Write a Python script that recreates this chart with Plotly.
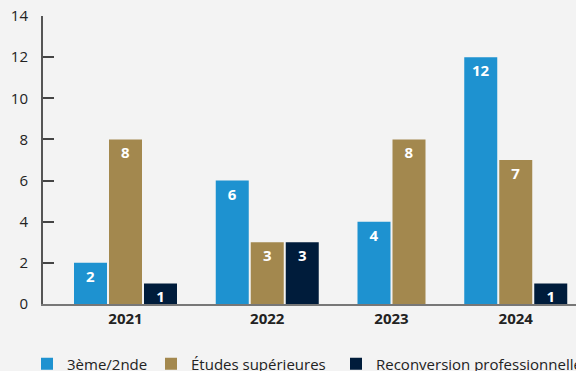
import plotly.graph_objects as go

# Data
years = ["2021", "2022", "2023", "2024"]
series_names = ["3ème/2nde", "Études supérieures", "Reconversion professionnelle"]
values_3e_2nde = [2, 6, 4, 12]
values_etudes_sup = [8, 3, 8, 7]
values_reconversion = [1, 3, None, 1]
y_ticks = [0, 2, 4, 6, 8, 10, 12, 14]

colors = ["#1e92d0", "#a3884e", "#001c3b"]
all_values = [values_3e_2nde, values_etudes_sup, values_reconversion]

FONT = "Open Sans"
GROUP_GAP = 1.05      # empty space between year groups, in bar slots
BAR_WIDTH = 0.943     # bar width in slot units

# Pack the bars of each year side by side; a year only takes room for the
# series it actually has.
x_pos = [[None] * len(years) for _ in all_values]
group_centers = []
cursor = 0.0
for j in range(len(years)):
    present = [k for k in range(len(all_values)) if all_values[k][j] is not None]
    for i, k in enumerate(present):
        x_pos[k][j] = cursor + i
    group_centers.append(cursor + (len(present) - 1) / 2)
    cursor += len(present) + GROUP_GAP

W, H = 576, 371
M_L, M_R, M_T, M_B = 43, 0, 16, 67
slot_px = 35.0
first_center_px = 90.5
x_range = [(M_L - first_center_px) / slot_px, (W - M_R - first_center_px) / slot_px]

fig = go.Figure()
legend_ids = ["legend", "legend2", "legend3"]
for k, name in enumerate(series_names):
    xs = [x for x, v in zip(x_pos[k], all_values[k]) if v is not None]
    ys = [v for v in all_values[k] if v is not None]
    fig.add_trace(go.Bar(
        x=xs, y=ys, name=name,
        width=BAR_WIDTH,
        marker=dict(color=colors[k], line=dict(width=0)),
        text=[str(v) for v in ys],
        textposition="inside",
        insidetextanchor="end",
        textangle=0,
        constraintext="none",
        textfont=dict(family=FONT, size=15, color="white", weight="bold"),
        legend=legend_ids[k],
        hoverinfo="skip",
    ))

legend_left_px = [27, 151, 336]
legend_common = dict(
    orientation="h", xref="container", yref="container",
    yanchor="middle", y=1 - 364 / H, xanchor="left",
    bgcolor="rgba(0,0,0,0)", borderwidth=0,
    font=dict(family=FONT, size=15, color="#222"),
    itemclick=False, itemdoubleclick=False,
)
legend_layout = {}
for lid, lx in zip(legend_ids, legend_left_px):
    legend_layout[lid] = dict(legend_common, x=lx / W)

fig.update_layout(
    width=W, height=H,
    margin=dict(l=M_L, r=M_R, t=M_T, b=M_B, pad=0),
    paper_bgcolor="#f3f3f3",
    plot_bgcolor="#f3f3f3",
    barmode="overlay",
    showlegend=True,
    font=dict(family=FONT, color="#222"),
    xaxis=dict(
        range=x_range,
        tickmode="array", tickvals=group_centers, ticktext=years,
        tickfont=dict(family=FONT, size=15, color="#222", weight="bold"),
        ticks="", showgrid=False, zeroline=False,
        showline=True, linecolor="#777", linewidth=2,
        fixedrange=True,
    ),
    yaxis=dict(
        range=[0, 14],
        tickmode="array", tickvals=y_ticks,
        tickfont=dict(family=FONT, size=15, color="#222"),
        ticks="inside", ticklen=11, tickwidth=1.5, tickcolor="#444",
        ticklabelstandoff=10,
        showgrid=False, zeroline=False,
        showline=True, linecolor="#555", linewidth=2,
        fixedrange=True,
    ),
    **legend_layout,
)

fig.write_html("out.html", config={"displayModeBar": False})
